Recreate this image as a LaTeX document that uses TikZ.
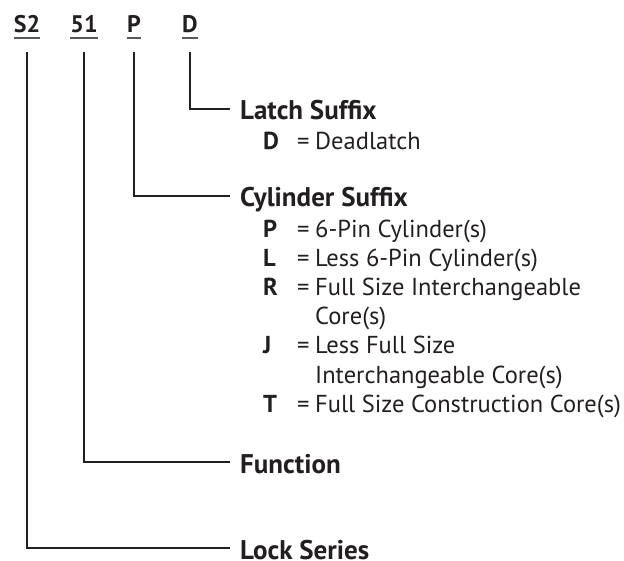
\documentclass[tikz,border=0pt]{standalone}
\usepackage{fontspec}
\setmainfont{PT Sans}
\usetikzlibrary{positioning}
\definecolor{ink}{HTML}{231F20}

\begin{document}
\begin{tikzpicture}[x=1pt,y=-1pt,
  every node/.style={text=ink,inner sep=0pt,font=\fontsize{24.5}{29}\selectfont},
  code/.style={font=\fontsize{24}{29}\selectfont\bfseries,anchor=base,text depth=19pt},
  head/.style={font=\fontsize{27}{32}\selectfont\bfseries,anchor=west,inner xsep=10pt,
    text height=22pt,text depth=0pt},
  key/.style={font=\fontsize{24.5}{29}\selectfont\bfseries,anchor=base west},
  val/.style={anchor=base west},
  leader/.style={draw=ink,line width=1.7pt},
  uline/.style={draw=ink!75,line width=1.6pt}]
  \useasboundingbox (0,0) rectangle (624,561);
  % the code letters
  \node[code] (s2) at (27,33) {S2};
  \node[code] (fn) at (84,33) {51};
  \node[code] (cy) at (134,33) {P};
  \node[code] (la) at (190,33) {D};
  \foreach \n in {s2,fn,cy,la}
    \draw[uline] ([yshift=-5pt]\n.base west) -- ([yshift=-5pt]\n.base east);
  % headings
  \node[head] (latch) at (230,109) {Latch Suffix};
  \node[head] (cyl) at (230,196) {Cylinder Suffix};
  \node[head] (func) at (230,462) {Function};
  \node[head] (lock) at (230,548) {Lock Series};
  \draw[leader] (la.south) |- (latch.west);
  \draw[leader] (cy.south) |- (cyl.west);
  \draw[leader] (fn.south) |- (func.west);
  \draw[leader] (s2.south) |- (lock.west);
  % entries
  \node[key] (k-D) at (263,150) {D};
  \node[val] at (297,150) {=};
  \node[val] (t-D) at (315,150) {Deadlatch};
  \foreach \y/\k/\t in {238/P/6-Pin Cylinder(s), 267/L/Less 6-Pin Cylinder(s),
      296/R/Full Size Interchangeable, 354/J/Less Full Size,
      412/T/Full Size Construction Core(s)} {
    \node[key] (k-\k) at (263,\y) {\k};
    \node[val] at (297,\y) {=};
    \node[val] (t-\k) at (315,\y) {\t};
  }
  \node[val] (t-R2) at (315,325) {Core(s)};
  \node[val] (t-J2) at (315,383) {Interchangeable Core(s)};
\end{tikzpicture}
\end{document}
